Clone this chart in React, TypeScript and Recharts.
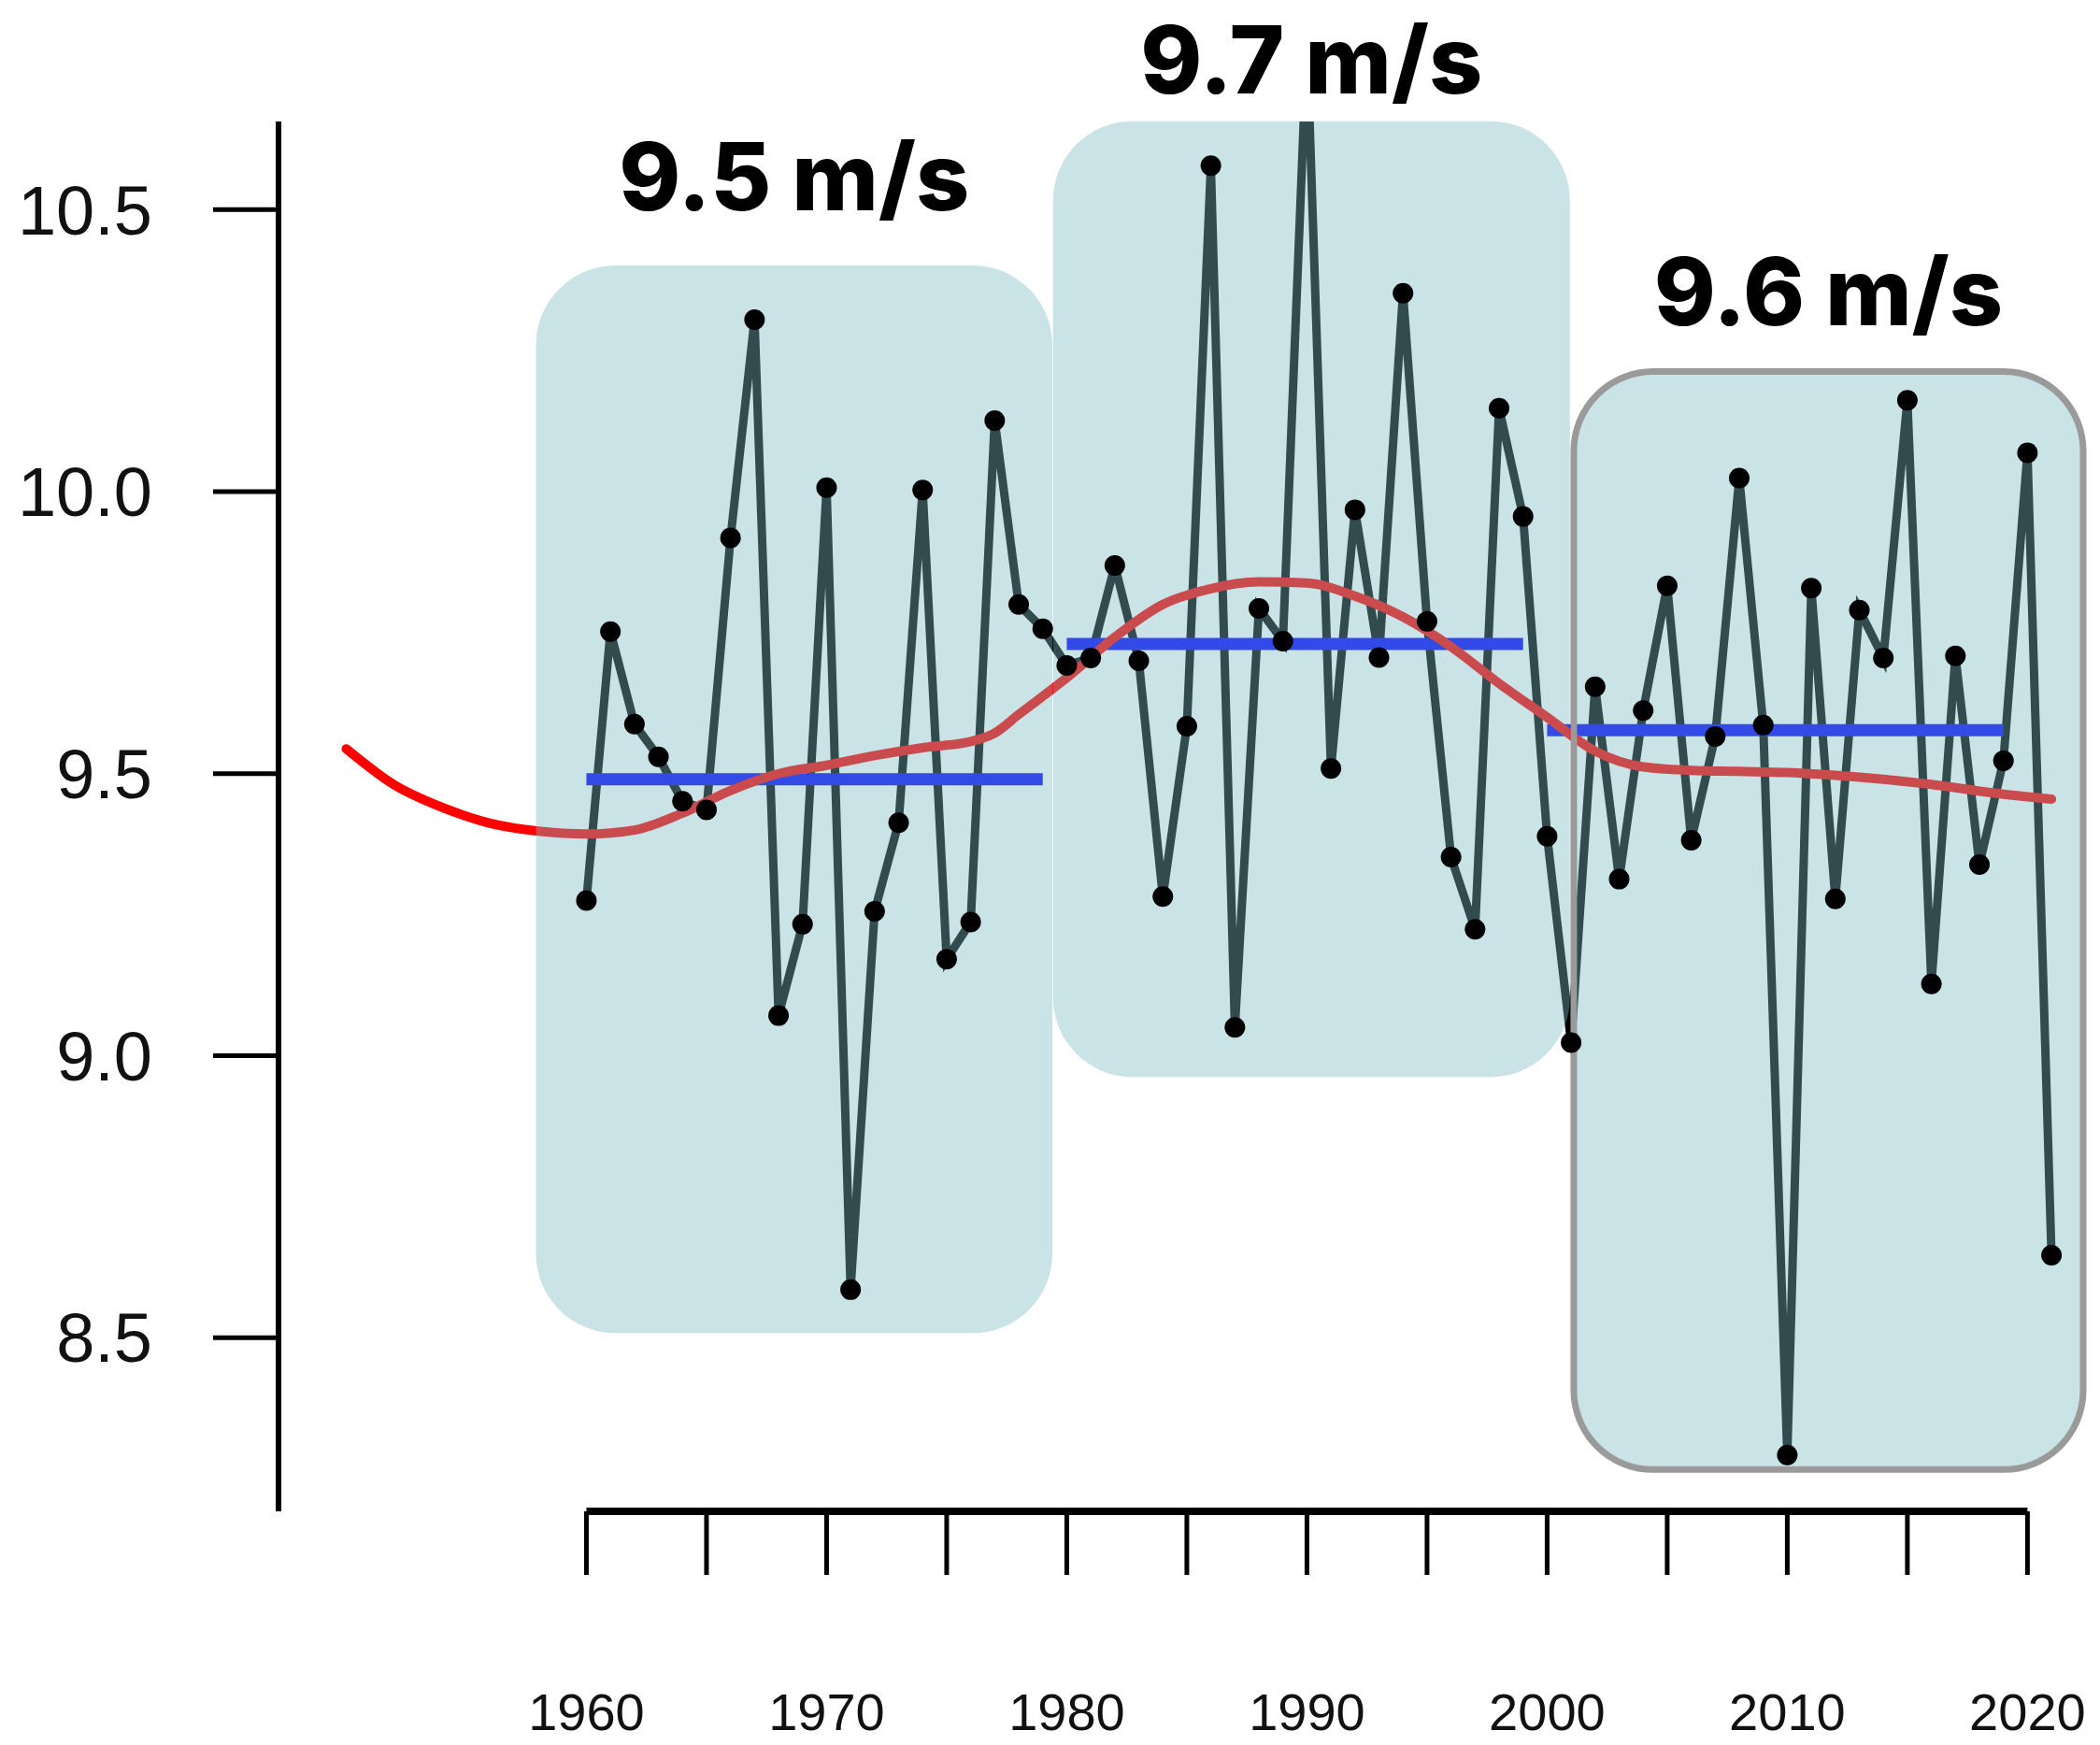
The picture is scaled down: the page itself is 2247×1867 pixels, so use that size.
import React from 'react';
import { LineChart, Line, XAxis, YAxis, ReferenceArea, ReferenceLine } from 'recharts';

// ---- data ----
const years = [
  1960, 1961, 1962, 1963, 1964, 1965, 1966, 1967, 1968, 1969,
  1970, 1971, 1972, 1973, 1974, 1975, 1976, 1977, 1978, 1979,
  1980, 1981, 1982, 1983, 1984, 1985, 1986, 1987, 1988, 1989,
  1990, 1991, 1992, 1993, 1994, 1995, 1996, 1997, 1998, 1999,
  2000, 2001, 2002, 2003, 2004, 2005, 2006, 2007, 2008, 2009,
  2010, 2011, 2012, 2013, 2014, 2015, 2016, 2017, 2018, 2019,
  2020, 2021,
];
const windSpeed = [
  9.275, 9.752, 9.588, 9.53, 9.451, 9.436, 9.918, 10.305, 9.071, 9.233,
  10.007, 8.585, 9.256, 9.413, 10.003, 9.171, 9.237, 10.126, 9.8, 9.757,
  9.692, 9.705, 9.869, 9.7, 9.282, 9.584, 10.578, 9.05, 9.793, 9.735,
  10.8, 9.509, 9.968, 9.706, 10.352, 9.77, 9.352, 9.224, 10.148, 9.956,
  9.389, 9.023, 9.654, 9.313, 9.612, 9.833, 9.382, 9.566, 10.024, 9.586,
  8.292, 9.829, 9.278, 9.79, 9.705, 10.162, 9.127, 9.709, 9.339, 9.523,
  10.069, 8.646,
];
const smoothYears = [
  1950, 1952, 1954, 1956, 1958, 1960, 1962, 1964, 1966, 1968,
  1970, 1972, 1974, 1976, 1977, 1978, 1980, 1982, 1984, 1986,
  1988, 1990, 1992, 1994, 1996, 1998, 2000, 2002, 2004, 2006,
  2008, 2010, 2012, 2014, 2016, 2018, 2020, 2021,
];
const smoothValues = [
  9.544, 9.48, 9.44, 9.412, 9.398, 9.393, 9.4, 9.43, 9.47, 9.5,
  9.515, 9.532, 9.546, 9.557, 9.572, 9.605, 9.67, 9.742, 9.8, 9.828,
  9.84, 9.838, 9.815, 9.778, 9.725, 9.66, 9.6, 9.54, 9.512, 9.506,
  9.504, 9.502, 9.497, 9.49, 9.481, 9.469, 9.459, 9.455,
];
const periodStarts = [1960, 1980, 2000];
const periodEnds = [1979, 1999, 2019];
const periodMeans = [9.49, 9.73, 9.577];
const periodLabels = ['9.5 m/s', '9.7 m/s', '9.6 m/s'];
// highlight boxes, in data units (years / m/s)
const boxFromYear = [1957.9, 1979.43, 2001.11];
const boxToYear = [1979.4, 2000.95, 2022.32];
const boxLow = [8.508, 8.962, 8.266];
const boxHigh = [10.401, 10.657, 10.213];
const xTicks = [1960, 1965, 1970, 1975, 1980, 1985, 1990, 1995, 2000, 2005, 2010, 2015, 2020];
const yTicks = [8.5, 9.0, 9.5, 10.0, 10.5];

// ---- layout / style constants ----
const X_MIN = 1947.18;
const X_MAX = 2023.02;
const Y_MIN = 8.192;
const Y_MAX = 10.6564;
const BOX_FILL = '#7bb9c1';
const BOX_OPACITY = 0.405;
const TITLE_GAP = [59, 30, 49.5];
const BOX_BORDER = ['none', 'none', '#9a9a9a'];
const AXIS_FONT = '"Liberation Sans", Arial, Helvetica, sans-serif';

const mainData = years.map((year, i) => ({ year, speed: windSpeed[i] }));
const smoothData = smoothYears.map((year, i) => ({ year, smooth: smoothValues[i] }));
const meanData = periodStarts.map((s, i) => [
  { year: s, mean: periodMeans[i] },
  { year: periodEnds[i], mean: periodMeans[i] },
]);

export default function App() {
  return (
    <div style={{ position: 'absolute', left: 0, top: 0, width: 2247, height: 1867, background: '#ffffff' }}>
      <LineChart width={2247} height={1867} margin={{ top: 130, right: 0, bottom: 0, left: 0 }}>
        <XAxis
          type="number"
          dataKey="year"
          domain={[X_MIN, X_MAX]}
          allowDataOverflow
          ticks={xTicks}
          interval={0}
          height={250}
          axisLine={false}
          tickLine={{ stroke: '#000', strokeWidth: 5 }}
          tickSize={68}
          tickMargin={126}
          tickFormatter={(v: number) => (v % 10 === 0 ? String(v) : '')}
          tick={{ fontSize: 56, fill: '#111', fontFamily: AXIS_FONT }}
        />
        <YAxis
          type="number"
          domain={[Y_MIN, Y_MAX]}
          allowDataOverflow
          ticks={yTicks}
          interval={0}
          width={298}
          axisLine={{ stroke: '#000', strokeWidth: 6 }}
          tickLine={{ stroke: '#000', strokeWidth: 5 }}
          tickSize={70}
          tickMargin={65}
          tickFormatter={(v: number) => v.toFixed(1)}
          tick={{ fontSize: 74, fill: '#111', fontFamily: AXIS_FONT }}
        />
        <Line
          data={mainData}
          dataKey="speed"
          type="linear"
          stroke="#000000"
          strokeWidth={9}
          dot={{ r: 11, fill: '#000000', stroke: 'none' }}
          activeDot={false}
          isAnimationActive={false}
        />
        {meanData.map((d, i) => (
          <Line
            key={'mean' + i}
            data={d}
            dataKey="mean"
            type="linear"
            stroke="#0000ff"
            strokeWidth={13}
            dot={false}
            activeDot={false}
            isAnimationActive={false}
          />
        ))}
        <Line
          data={smoothData}
          dataKey="smooth"
          type="monotone"
          stroke="#ff0000"
          strokeWidth={10}
          strokeLinecap="round"
          dot={false}
          activeDot={false}
          isAnimationActive={false}
        />
        <ReferenceLine
          segment={[{ x: xTicks[0], y: Y_MIN }, { x: xTicks[xTicks.length - 1], y: Y_MIN }]}
          stroke="#000"
          strokeWidth={8}
          ifOverflow="visible"
        />
        {periodLabels.map((lab, i) => (
          <ReferenceArea
            key={'box' + i}
            x1={boxFromYear[i]}
            x2={boxToYear[i]}
            y1={boxLow[i]}
            y2={boxHigh[i]}
            ifOverflow="visible"
            zIndex={450}
            shape={(p: any) => (
              <rect
                x={p.x}
                y={p.y}
                width={p.width}
                height={p.height}
                rx={85}
                ry={85}
                fill={BOX_FILL}
                fillOpacity={BOX_OPACITY}
                stroke={BOX_BORDER[i]}
                strokeWidth={7}
              />
            )}
            label={(lp: any) => {
              const vb = lp.viewBox || {};
              return (
                <text
                  x={vb.x + vb.width / 2}
                  y={vb.y - TITLE_GAP[i]}
                  textAnchor="middle"
                  fontFamily="Inter, 'Open Sans', sans-serif"
                  fontWeight={800}
                  fontSize={100}
                  fill="#000"
                >
                  {lab}
                </text>
              );
            }}
          />
        ))}
      </LineChart>
    </div>
  );
}
